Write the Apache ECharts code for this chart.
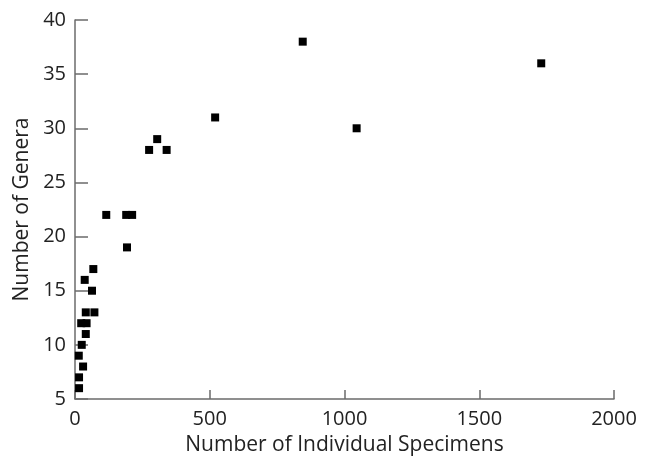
<!DOCTYPE html>
<html>
<head>
<meta charset="utf-8">
<script src="https://cdn.jsdelivr.net/npm/echarts@6/dist/echarts.min.js"></script>
<style>
  html, body { margin: 0; padding: 0; background: #fff; }
  #chart { width: 654px; height: 457px; }
</style>
</head>
<body>
<div id="chart"></div>
<script>
// Specimen counts per sample and the number of genera recorded in each
const specimens = [845, 1730, 1045, 520, 305, 275, 340, 116, 190, 212, 193,
                   68, 36, 63, 40, 72, 23, 43, 40, 25, 14, 30, 15, 15];
const genera    = [38, 36, 30, 31, 29, 28, 28, 22, 22, 22, 19,
                   17, 16, 15, 13, 13, 12, 12, 11, 10, 9, 8, 7, 6];
const xTicks = [0, 500, 1000, 1500, 2000];
const yTicks = [5, 10, 15, 20, 25, 30, 35, 40];

const points = specimens.map((s, i) => [s, genera[i]]);

const font = '"Open Sans", "DejaVu Sans", sans-serif';
const axisColor = '#6b6b6b';
const textColor = '#222';

const chart = echarts.init(document.getElementById('chart'), null, { renderer: 'canvas' });
chart.setOption({
  animation: false,
  backgroundColor: '#fff',
  grid: { left: 75, right: 40, top: 20, bottom: 58, outerBoundsMode: 'none' },
  xAxis: {
    type: 'value',
    min: xTicks[0],
    max: xTicks[xTicks.length - 1],
    interval: xTicks[1] - xTicks[0],
    name: 'Number of Individual Specimens',
    nameLocation: 'middle',
    nameGap: 36,
    nameTextStyle: { fontFamily: font, fontSize: 21, color: textColor },
    axisLine: { lineStyle: { color: axisColor, width: 1.5 } },
    axisTick: { inside: true, length: 9, lineStyle: { color: axisColor, width: 1.5 } },
    axisLabel: {
      margin: 10, fontFamily: font, fontSize: 20, color: textColor,
      formatter: v => String(v)
    },
    splitLine: { show: false }
  },
  yAxis: {
    type: 'value',
    min: yTicks[0],
    max: yTicks[yTicks.length - 1],
    interval: yTicks[1] - yTicks[0],
    name: 'Number of Genera',
    nameLocation: 'middle',
    nameGap: 38,
    nameTextStyle: { fontFamily: font, fontSize: 21, color: textColor },
    axisLine: { show: true, lineStyle: { color: axisColor, width: 1.5 } },
    axisTick: { show: true, inside: true, length: 13, lineStyle: { color: axisColor, width: 1.5 } },
    axisLabel: { margin: 9, fontFamily: font, fontSize: 20, color: textColor },
    splitLine: { show: false }
  },
  series: [{
    type: 'scatter',
    data: points,
    symbol: 'rect',
    symbolSize: 8,
    itemStyle: { color: '#000', opacity: 1 }
  }]
});
</script>
</body>
</html>
